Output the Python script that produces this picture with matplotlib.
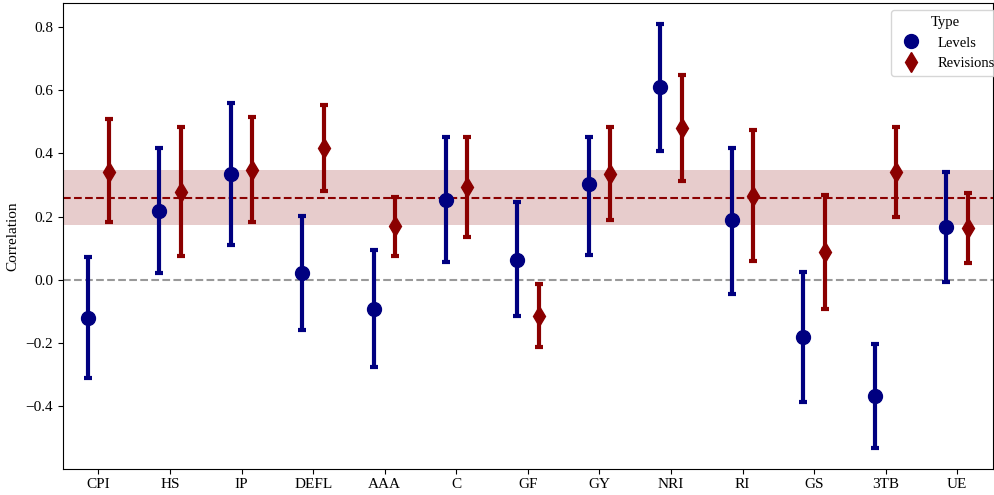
import numpy as np
import matplotlib.pyplot as plt
from matplotlib.lines import Line2D

plt.rcParams['font.family'] = ['Liberation Serif', 'DejaVu Serif']
plt.rcParams['font.size'] = 11

# data
series   = ['CPI', 'HS', 'IP', 'DEFL', 'AAA', 'C', 'GF', 'GY', 'NRI', 'RI', 'GS', '3TB', 'UE']
lev_mid  = [-0.121, 0.219, 0.334, 0.021, -0.093, 0.252, 0.063, 0.304, 0.609, 0.188, -0.181, -0.368, 0.166]
lev_lo   = [-0.312, 0.021, 0.111, -0.158, -0.277, 0.055, -0.116, 0.080, 0.409, -0.044, -0.388, -0.532, -0.008]
lev_hi   = [0.072, 0.416, 0.558, 0.201, 0.093, 0.451, 0.246, 0.453, 0.809, 0.417, 0.024, -0.204, 0.341]
rev_mid  = [0.342, 0.279, 0.346, 0.416, 0.169, 0.293, -0.114, 0.335, 0.480, 0.266, 0.088, 0.342, 0.164]
rev_lo   = [0.182, 0.076, 0.182, 0.281, 0.076, 0.134, -0.213, 0.188, 0.312, 0.061, -0.091, 0.200, 0.053]
rev_hi   = [0.508, 0.485, 0.514, 0.552, 0.263, 0.453, -0.014, 0.483, 0.647, 0.475, 0.267, 0.484, 0.276]
band_lo, band_mid, band_hi = 0.172, 0.260, 0.348

x = np.arange(len(series))
lev_mid = np.array(lev_mid); rev_mid = np.array(rev_mid)
lev_err = [lev_mid - np.array(lev_lo), np.array(lev_hi) - lev_mid]
rev_err = [rev_mid - np.array(rev_lo), np.array(rev_hi) - rev_mid]

fig, ax = plt.subplots(figsize=(9.95, 4.95), dpi=100)
fig.subplots_adjust(left=0.063, right=0.998, top=0.994, bottom=0.053)

ax.axhspan(band_lo, band_hi, color='darkred', alpha=0.2, lw=0, zorder=0)
ax.axhline(band_mid, color='darkred', ls='--', lw=1.5, zorder=1)
ax.axhline(0, color='grey', ls='--', lw=1.5, alpha=0.8, zorder=1)

ax.errorbar(x - 0.15, lev_mid, yerr=lev_err, fmt='o', color='navy', ms=10,
            elinewidth=3, capsize=3, capthick=3, zorder=3)
ax.errorbar(x + 0.15, rev_mid, yerr=rev_err, fmt='d', color='darkred', ms=10,
            elinewidth=3, capsize=3, capthick=3, zorder=3)

handles = [Line2D([], [], marker='o', color='navy', ls='', ms=10),
           Line2D([], [], marker='d', color='darkred', ls='', ms=10)]
ax.legend(handles, ['Levels', 'Revisions'], title='Type', loc='upper right',
          bbox_to_anchor=(1.016, 1.0), fontsize=10.5, title_fontsize=10.5)

ax.set_xticks(x)
ax.set_xticklabels(series)
ax.set_xlim(-0.5, len(series) - 0.5)
ax.set_ylim(-0.598, 0.876)
ax.set_ylabel('Correlation')

plt.savefig('out.png')
